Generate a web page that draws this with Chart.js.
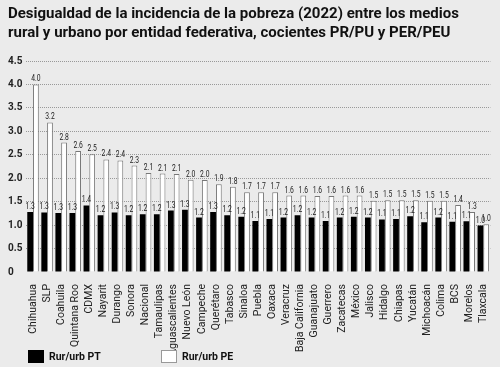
<!DOCTYPE html>
<html>
<head>
<meta charset="utf-8">
<script src="https://cdn.jsdelivr.net/npm/chart.js@4.4.1/dist/chart.umd.min.js"></script>
<style>
  html, body { margin: 0; padding: 0; background: #ebebeb; }
  #wrap { position: relative; width: 500px; height: 367px; }
  #legend { position: absolute; left: 0; top: 350px; font: bold 10.5px Roboto, sans-serif; color: #111; }
  .item { position: absolute; top: 0; white-space: nowrap; line-height: 13px; }
  .box { display: inline-block; width: 16px; height: 13px; vertical-align: top; margin-right: 5px; box-sizing: border-box; }
</style>
</head>
<body>
<div id="wrap">
  <canvas id="chart" width="500" height="367"></canvas>
  <div id="legend"></div>
</div>
<script>
// categories (entidades), ordered as in the figure
const categories = ['Chihuahua', 'SLP', 'Coahuila', 'Quintana Roo', 'CDMX', 'Nayarit', 'Durango', 'Sonora',
  'Nacional', 'Tamaulipas', 'Aguascalientes', 'Nuevo León', 'Campeche', 'Querétaro', 'Tabasco', 'Sinaloa',
  'Puebla', 'Oaxaca', 'Veracruz', 'Baja California', 'Guanajuato', 'Guerrero', 'Zacatecas', 'México',
  'Jalisco', 'Hidalgo', 'Chiapas', 'Yucatán', 'Michoacán', 'Colima', 'BCS', 'Morelos', 'Tlaxcala'];

// cociente PR/PU (pobreza total)
const rurUrbPT = [1.28, 1.27, 1.26, 1.26, 1.42, 1.21, 1.27, 1.21, 1.23, 1.23, 1.31, 1.33, 1.16, 1.28, 1.21, 1.18,
  1.09, 1.13, 1.16, 1.21, 1.16, 1.09, 1.16, 1.18, 1.16, 1.12, 1.13, 1.19, 1.06, 1.16, 1.07, 1.08, 0.99];

// cociente PER/PEU (pobreza extrema)
const rurUrbPE = [4.0, 3.19, 2.76, 2.58, 2.51, 2.4, 2.38, 2.27, 2.11, 2.1, 2.09, 1.97, 1.96, 1.87, 1.82, 1.7,
  1.7, 1.7, 1.63, 1.63, 1.62, 1.62, 1.63, 1.63, 1.52, 1.53, 1.53, 1.53, 1.52, 1.52, 1.43, 1.28, 1.02];

const seriesNames = ['Rur/urb PT', 'Rur/urb PE'];
const yTicks = [0, 0.5, 1.0, 1.5, 2.0, 2.5, 3.0, 3.5, 4.0, 4.5];

const titleLines = ['Desigualdad de la incidencia de la pobreza (2022) entre los medios',
  'rural y urbano por entidad federativa, cocientes PR/PU y PER/PEU'];

// small value labels on top of each bar
const valueLabels = {
  id: 'valueLabels',
  afterDatasetsDraw(chart) {
    const ctx = chart.ctx;
    ctx.save();
    ctx.fillStyle = '#222';
    ctx.textAlign = 'center';
    ctx.textBaseline = 'alphabetic';
    ctx.font = "9px 'Liberation Sans Narrow', Roboto, sans-serif";
    chart.data.datasets.forEach((ds, i) => {
      chart.getDatasetMeta(i).data.forEach((bar, j) => {
        ctx.save();
        ctx.translate(bar.x, bar.y - 3);
        ctx.scale(0.75, 1);
        ctx.fillText(ds.data[j].toFixed(1), 0, 0);
        ctx.restore();
      });
    });
    ctx.restore();
  }
};

const ctx = document.getElementById('chart').getContext('2d');
const chart = new Chart(ctx, {
  type: 'bar',
  data: {
    labels: categories,
    datasets: [{
      label: seriesNames[0],
      data: rurUrbPT,
      backgroundColor: '#000',
      borderWidth: 0
    }, {
      label: seriesNames[1],
      data: rurUrbPE,
      backgroundColor: '#fff',
      borderColor: '#777',
      borderWidth: 1
    }]
  },
  options: {
    responsive: false,
    animation: false,
    layout: { padding: { left: 8, right: 5, top: 0, bottom: 0 } },
    datasets: { bar: { categoryPercentage: 0.82, barPercentage: 1.0 } },
    plugins: {
      legend: { display: false },
      tooltip: { enabled: false },
      title: {
        display: true,
        text: titleLines,
        align: 'start',
        color: '#111',
        font: { family: 'Roboto', size: 15, weight: 'bold', lineHeight: 1.3 },
        padding: { top: 4, bottom: 18 }
      }
    },
    scales: {
      x: {
        grid: { display: false },
        border: { display: false },
        ticks: {
          autoSkip: false,
          minRotation: 90,
          maxRotation: 90,
          padding: 4,
          color: '#222',
          font: { family: "'Liberation Sans Narrow', Roboto, sans-serif", size: 10.5 }
        },
        afterFit(scale) { scale.height = 95; }
      },
      y: {
        min: 0,
        max: 4.5,
        afterBuildTicks(scale) { scale.ticks = yTicks.map(v => ({ value: v })); },
        grid: {
          color: c => c.tick.value === 0 ? 'rgba(0,0,0,0)' : '#999',
          lineWidth: 1,
          drawTicks: false
        },
        border: { display: false, dash: [1, 1] },
        ticks: {
          crossAlign: 'far',
          color: '#222',
          font: { family: 'Roboto', size: 10, weight: 'bold' },
          callback: v => v === 0 ? '0' : v.toFixed(1)
        },
        afterFit(scale) { scale.width = 18; }
      }
    }
  },
  plugins: [valueLabels]
});

// legend below the chart
const legend = document.getElementById('legend');
const legendX = [28, 161];
const legendFill = ['#000', '#fff'];
seriesNames.forEach((name, i) => {
  const item = document.createElement('div');
  item.className = 'item';
  item.style.left = legendX[i] + 'px';
  const box = document.createElement('span');
  box.className = 'box';
  box.style.background = legendFill[i];
  if (i === 1) box.style.border = '1px solid #999';
  item.appendChild(box);
  item.appendChild(document.createTextNode(name));
  legend.appendChild(item);
});
</script>
</body>
</html>
